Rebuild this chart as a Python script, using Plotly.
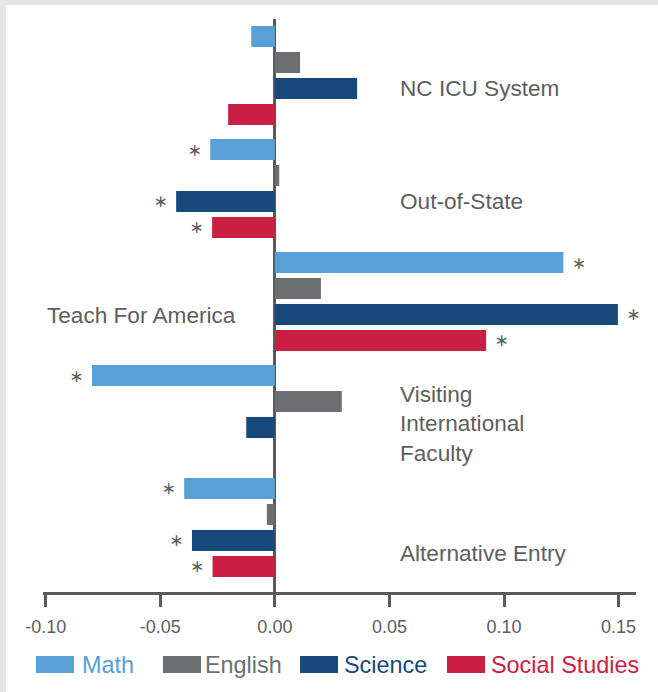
import plotly.graph_objects as go

# ---- data ----
categories = ["NC ICU System", "Out-of-State", "Teach For America",
              "Visiting International Faculty", "Alternative Entry"]
math_vals = [-0.0103, -0.0282, 0.1259, -0.0798, -0.0396]
english_vals = [0.0110, 0.0019, 0.0201, 0.0292, -0.0035]
science_vals = [0.0359, -0.0431, 0.1497, -0.0125, -0.0362]
social_vals = [-0.0204, -0.0274, 0.0922, None, -0.0272]
math_sig = [False, True, True, True, True]
english_sig = [False, False, False, False, False]
science_sig = [False, True, True, False, True]
social_sig = [False, True, True, False, True]
series_names = ["Math", "English", "Science", "Social Studies"]
tick_vals = [-0.10, -0.05, 0.00, 0.05, 0.10, 0.15]
tick_labels = ["-0.10", "-0.05", "0.00", "0.05", "0.10", "0.15"]

# ---- styles ----
colors = ["#58A0D6", "#6D6E71", "#174A7B", "#C91F42"]
axis_gray = "#5A5A5A"
text_gray = "#5E5E5E"
FONT = "Liberation Sans, Arial, sans-serif"

W, H = 658, 692
L, R, T, B = 43, 22, 19, 100
PW, PH = W - L - R, H - T - B


def px_x(p):
    return (p - L) / PW


def px_y(p):
    return (H - B - p) / PH


def star_text(vals, sig):
    out = []
    for v, s in zip(vals, sig):
        if s and v is not None:
            out.append(" \u2217" if v > 0 else "\u2217 ")
        else:
            out.append("")
    return out


fig = go.Figure()
all_vals = [math_vals, english_vals, science_vals, social_vals]
all_sig = [math_sig, english_sig, science_sig, social_sig]
for name, vals, sig, col in zip(series_names, all_vals, all_sig, colors):
    fig.add_trace(go.Bar(
        y=categories, x=vals, name=name, orientation="h",
        marker=dict(color=col, line=dict(width=0)),
        text=star_text(vals, sig), textposition="outside",
        textfont=dict(family="DejaVu Sans", size=17, color=text_gray),
        constraintext="none", cliponaxis=False, showlegend=False,
        hoverinfo="x+y+name",
    ))

# category labels (annotations)
label_x = [0.0537, 0.0537, -0.1005, 0.0537, 0.0537]
label_dy = [0.117, 0.111, 0.122, 0.084, 0.226]
label_text = ["NC ICU System", "Out-of-State", "Teach For America",
              "Visiting<br>International<br>Faculty", "Alternative Entry"]
annotations = []
for i, (lx, dy, txt) in enumerate(zip(label_x, label_dy, label_text)):
    annotations.append(dict(
        x=lx, y=i + dy, xref="x", yref="y", text=txt, showarrow=False,
        xanchor="left", yanchor="middle", align="left",
        font=dict(family=FONT, size=22.6, color=text_gray),
    ))

shapes = []
# white panel over gray page (gray strips at left and top)
shapes.append(dict(type="rect", xref="paper", yref="paper",
                   x0=px_x(6), x1=px_x(W + 5), y0=px_y(H + 5), y1=px_y(5),
                   fillcolor="white", line=dict(width=0), layer="below"))

# manual legend
leg_sw = [(36, 74), (163, 201), (300, 338), (447, 485)]
leg_tx = [83, 206, 345, 492]
for (a, b), tx, name, col in zip(leg_sw, leg_tx, series_names, colors):
    shapes.append(dict(type="rect", xref="paper", yref="paper",
                       x0=px_x(a), x1=px_x(b), y0=px_y(673), y1=px_y(656),
                       fillcolor=col, line=dict(width=0)))
    annotations.append(dict(
        x=px_x(tx - 3), y=px_y(665), xref="paper", yref="paper",
        text=name, showarrow=False, xanchor="left", yanchor="middle",
        font=dict(family=FONT, size=23.4, color=col),
    ))

fig.update_layout(
    width=W, height=H,
    margin=dict(l=L, r=R, t=T, b=B, pad=0),
    paper_bgcolor="#E3E4E6", plot_bgcolor="white",
    barmode="group", bargap=0.08, bargroupgap=0.19,
    font=dict(family=FONT, color=text_gray),
    annotations=annotations, shapes=shapes,
    xaxis=dict(range=[-0.1012, 0.1576], tickvals=tick_vals,
               ticktext=tick_labels, ticks="outside", ticklen=12,
               tickwidth=2.5, ticklabelstandoff=5,
               tickcolor=axis_gray, showline=True, linecolor=axis_gray,
               linewidth=2.5, showgrid=False, zeroline=True,
               zerolinecolor=axis_gray, zerolinewidth=2.5,
               tickfont=dict(family=FONT, size=18, color=text_gray)),
    yaxis=dict(range=[4.571, -0.5], showticklabels=False, ticks="",
               showgrid=False, zeroline=False, showline=False,
               categoryorder="array", categoryarray=categories),
)

fig.write_html(
    "out.html",
    config={"displayModeBar": False},
    post_script="document.body.style.margin='0';"
                "document.body.style.overflow='hidden';",
)
